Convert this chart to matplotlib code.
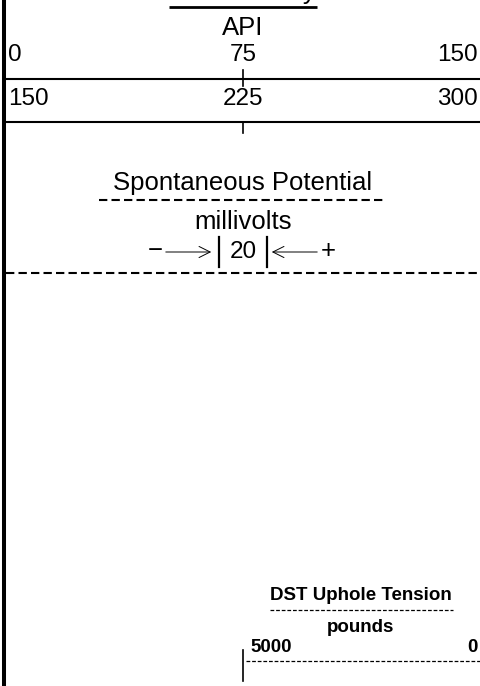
import matplotlib.pyplot as plt

# scale labels of the log header
gr_title = 'Gamma Ray'
gr_unit = 'API'
gr_scale_1 = ['0', '75', '150']
gr_scale_2 = ['150', '225', '300']
sp_title = 'Spontaneous Potential'
sp_unit = 'millivolts'
sp_div = '20'
dst_title = 'DST Uphole Tension'
dst_unit = 'pounds'
dst_scale = ['5000', '0']

plt.rcParams['font.family'] = ['Liberation Sans', 'DejaVu Sans']

fig = plt.figure(figsize=(4.8, 6.86), dpi=100)
ax = fig.add_axes([0, 0, 1, 1])
ax.set_xlim(0, 480)
ax.set_ylim(686, 0)
ax.axis('off')

mid = 243
fs = 18.5
fs_num = 17.5
fs_dst = 13.5

# left track border
ax.plot([4, 4], [0, 686], color='black', lw=2.9, solid_capstyle='butt')

# gamma ray title (cut off at the top) + underline
ax.text(mid, -1, gr_title, ha='center', va='baseline', fontsize=fs)
ax.plot([169, 317], [7, 7], color='black', lw=2.0, solid_capstyle='butt')
ax.text(mid, 28, gr_unit, ha='center', va='center', fontsize=fs)

# scale rows
ax.text(8, 55, gr_scale_1[0], ha='left', va='center', fontsize=fs_num)
ax.text(mid, 55, gr_scale_1[1], ha='center', va='center', fontsize=fs_num)
ax.text(478, 55, gr_scale_1[2], ha='right', va='center', fontsize=fs_num)
ax.plot([6, 480], [79, 79], color='black', lw=1.5)
ax.plot([mid, mid], [70, 86], color='black', lw=1.2)

ax.text(8, 99, gr_scale_2[0], ha='left', va='center', fontsize=fs_num)
ax.text(mid, 99, gr_scale_2[1], ha='center', va='center', fontsize=fs_num)
ax.text(478, 99, gr_scale_2[2], ha='right', va='center', fontsize=fs_num)
ax.plot([6, 480], [122, 122], color='black', lw=1.5)
ax.plot([mid, mid], [122, 133], color='black', lw=1.2)

# spontaneous potential
ax.text(mid, 183, sp_title, ha='center', va='center', fontsize=fs)
ax.plot([99, 383], [200, 200], color='black', lw=1.5, dashes=(4, 2))
ax.text(mid, 222, sp_unit, ha='center', va='center', fontsize=fs)
ax.text(155, 251, '\u2212', ha='center', va='center', fontsize=fs)
ax.annotate('', xy=(214, 252), xytext=(163, 252),
            arrowprops=dict(arrowstyle='->', lw=0.7, color='black', mutation_scale=20))
ax.plot([219, 219], [237, 267], color='black', lw=1.6)
ax.text(mid, 252, sp_div, ha='center', va='center', fontsize=fs_num)
ax.plot([267, 267], [237, 267], color='black', lw=1.6)
ax.annotate('', xy=(269, 252), xytext=(320, 252),
            arrowprops=dict(arrowstyle='->', lw=0.7, color='black', mutation_scale=20))
ax.text(328, 251, '+', ha='center', va='center', fontsize=fs)
ax.plot([6, 480], [273, 273], color='black', lw=1.5, dashes=(4, 2))

# DST uphole tension
ax.text(361, 596, dst_title, ha='center', va='center', fontsize=fs_dst, fontweight='bold')
ax.plot([270, 453], [610, 610], color='black', lw=0.9, dashes=(3, 1.5))
ax.text(361, 628, dst_unit, ha='center', va='center', fontsize=fs_dst, fontweight='bold')
ax.text(250, 648, dst_scale[0], ha='left', va='center', fontsize=fs_dst, fontweight='bold')
ax.text(478, 648, dst_scale[1], ha='right', va='center', fontsize=fs_dst, fontweight='bold')
ax.plot([246, 480], [661, 661], color='black', lw=0.9, dashes=(3, 1.5))
ax.plot([243, 243], [650, 681], color='black', lw=1.2)

fig.savefig('out.png', dpi=100)
